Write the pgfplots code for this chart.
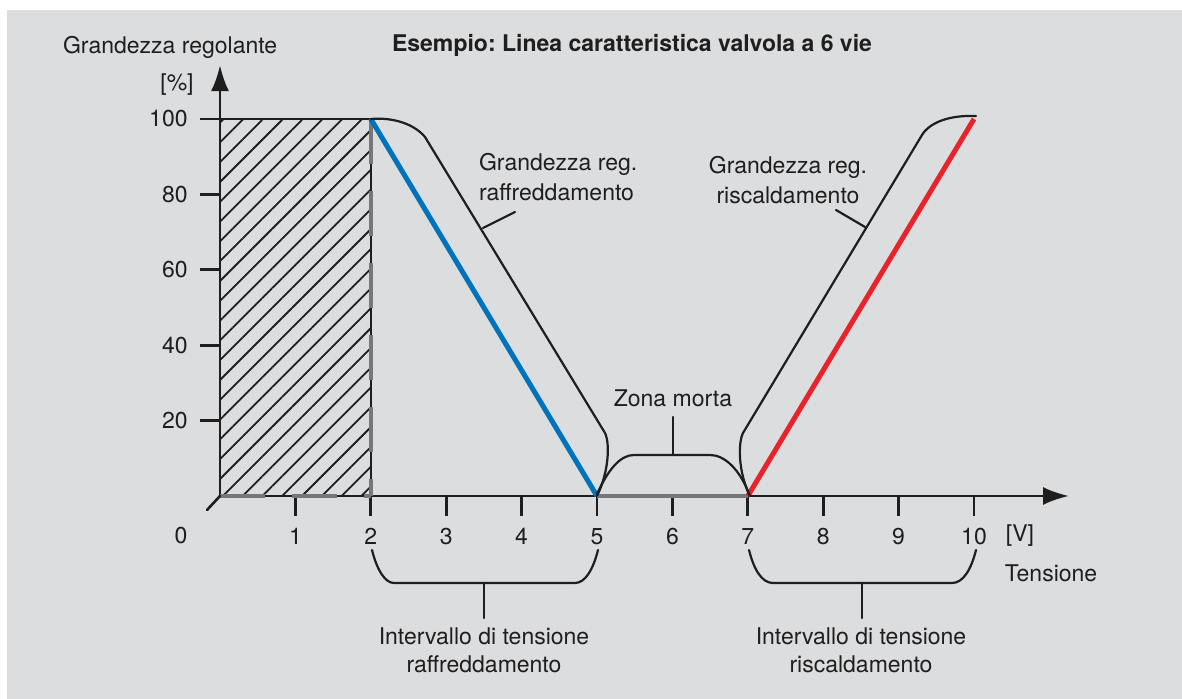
\documentclass[border=0pt]{standalone}
\usepackage{fontspec}
\setmainfont{TeX Gyre Heros}
\usepackage{pgfplots}
\pgfplotsset{compat=1.18}
\usetikzlibrary{arrows.meta,patterns.meta}

\definecolor{bgray}{HTML}{DCDDDF}
\definecolor{coolblue}{HTML}{0072BA}
\definecolor{heatred}{HTML}{E8232A}
\definecolor{dgray}{HTML}{76777A}
\definecolor{ink}{HTML}{1E1E1E}

\begin{document}
\frenchspacing
\begin{tikzpicture}[font=\fontsize{11.5}{14}\selectfont, color=ink]
% background (1 unit = 1 px of the reference, origin at the axis origin)
\begin{scope}[x=0.5pt,y=-0.5pt,shift={(-220,-496)}]
  \fill[white] (0,0) rectangle (1182,699);
  \fill[bgray] (7,10) rectangle (1182,699);
\end{scope}

\begin{axis}[
    scale only axis,
    x=37.7pt, y=1.885pt,
    xmin=0, xmax=11.26,
    ymin=0, ymax=114.3,
    clip=false,
    axis lines=left,
    axis line style={ink, line width=1.4pt, -{Latex[length=13pt,width=9pt]}},
    xtick={1,...,10},
    ytick={20,40,60,80,100},
    tick align=outside,
    major tick length=10pt,
    tick style={ink, line width=1.4pt},
    /pgf/number format/assume math mode=true,
    xticklabel style={anchor=north, inner sep=0pt, yshift=-6pt},
    yticklabel style={anchor=east, inner sep=0pt, xshift=-6pt},
]
% hatched zone 0..2 V
\addplot[draw=none, pattern={Lines[angle=45,distance=7pt,line width=0.9pt]}, pattern color=ink]
    coordinates {(0,0) (0,100) (2,100) (2,0)} \closedcycle;
\addplot[ink, line width=1.3pt] coordinates {(0,100) (2,100) (2,0)};
% gray dashed limits
\addplot[dgray, line width=2.3pt, dash pattern=on 22.5pt off 13.5pt] coordinates {(0,0) (2,0)};
\addplot[dgray, line width=2.3pt, dash pattern=on 22.5pt off 13.5pt] coordinates {(2,100) (2,0)};
% dead zone
\addplot[dgray, line width=2.3pt] coordinates {(5,0) (7,0)};
% cooling
\addplot[coolblue, line width=2.5pt] coordinates {(2,100) (5,0)};
% heating
\addplot[heatred, line width=2.5pt] coordinates {(7,0) (10,100)};
\end{axis}

\begin{scope}[x=0.5pt,y=-0.5pt,shift={(-220,-496)}, line width=1.1pt, line cap=round]
  % origin stub and label
  \draw[line width=1.3pt] (207,510) -- (220,496);
  \node at (181,536) {0};
  \node at (1020,536) {[V]};
  \node at (1051,573) {Tensione};
  \node[anchor=west, inner sep=0pt] at (62,47) {Grandezza regolante};
  \node at (177,85) {[\%]};
  \node[font=\fontsize{11.5}{14}\selectfont\bfseries] at (632,45) {Esempio: Linea caratteristica valvola a 6 vie};

  % cooling outline
  \draw (371,119) .. controls (395,117) and (415,125) .. (425,137)
        -- (605,433) .. controls (610,443) and (609,472) .. (597,496);
  \draw (515,212) -- (483,228);
  \node[anchor=west, align=left, inner sep=0pt, font=\fontsize{11.5}{15}\selectfont] at (478,177)
     {Grandezza reg.\\raffreddamento};

  % heating outline
  \draw (976,116) .. controls (950,115) and (930,122) .. (922,135)
        -- (743,433) .. controls (738,443) and (738,472) .. (750,496);
  \draw (836,210) -- (865,227);
  \node[align=center, inner sep=0pt, font=\fontsize{11.5}{15}\selectfont] at (788,180)
     {Grandezza reg.\\riscaldamento};

  % dead zone bracket
  \draw (597,494) .. controls (608,470) and (620,455) .. (634,455) -- (710,455)
        .. controls (725,455) and (740,470) .. (749,494);
  \draw (673,455) -- (673,417);
  \node at (673,398) {Zona morta};

  % lower brackets
  \draw (372,550) .. controls (377,570) and (385,583) .. (394,583) -- (575,583)
        .. controls (585,583) and (593,570) .. (598,550);
  \draw (484,583) -- (484,618);
  \node[align=center, inner sep=0pt] at (484,650) {Intervallo di tensione\\raffreddamento};

  \draw (749,550) .. controls (754,570) and (762,583) .. (773,583) -- (952,583)
        .. controls (963,583) and (971,570) .. (976,550);
  \draw (862,583) -- (862,618);
  \node[align=center, inner sep=0pt] at (861,650) {Intervallo di tensione\\riscaldamento};
\end{scope}
\end{tikzpicture}
\end{document}
